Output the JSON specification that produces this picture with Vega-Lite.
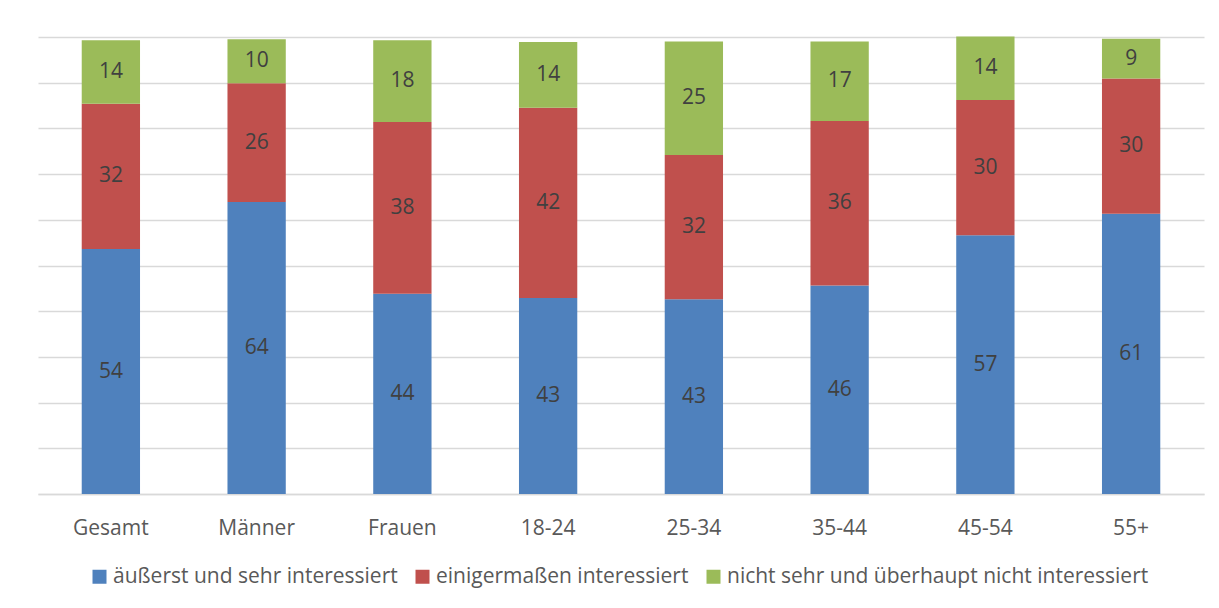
{
  "$schema": "https://vega.github.io/schema/vega-lite/v6.json",
  "autosize": {"type": "none"},
  "width": 1166,
  "height": 457,
  "padding": {"left": 38, "top": 37, "right": 15, "bottom": 114},
  "background": "white",
  "config": {
    "view": {"stroke": null},
    "font": "Open Sans"
  },
  "data": {
    "values": [
      {"gruppe": "Gesamt", "antwort": "äußerst und sehr interessiert", "rang": 1, "wert": 53.6},
      {"gruppe": "Gesamt", "antwort": "einigermaßen interessiert", "rang": 2, "wert": 31.8},
      {"gruppe": "Gesamt", "antwort": "nicht sehr und überhaupt nicht interessiert", "rang": 3, "wert": 13.9},
      {"gruppe": "Männer", "antwort": "äußerst und sehr interessiert", "rang": 1, "wert": 63.9},
      {"gruppe": "Männer", "antwort": "einigermaßen interessiert", "rang": 2, "wert": 26.0},
      {"gruppe": "Männer", "antwort": "nicht sehr und überhaupt nicht interessiert", "rang": 3, "wert": 9.6},
      {"gruppe": "Frauen", "antwort": "äußerst und sehr interessiert", "rang": 1, "wert": 43.8},
      {"gruppe": "Frauen", "antwort": "einigermaßen interessiert", "rang": 2, "wert": 37.6},
      {"gruppe": "Frauen", "antwort": "nicht sehr und überhaupt nicht interessiert", "rang": 3, "wert": 17.9},
      {"gruppe": "18-24", "antwort": "äußerst und sehr interessiert", "rang": 1, "wert": 42.9},
      {"gruppe": "18-24", "antwort": "einigermaßen interessiert", "rang": 2, "wert": 41.6},
      {"gruppe": "18-24", "antwort": "nicht sehr und überhaupt nicht interessiert", "rang": 3, "wert": 14.4},
      {"gruppe": "25-34", "antwort": "äußerst und sehr interessiert", "rang": 1, "wert": 42.6},
      {"gruppe": "25-34", "antwort": "einigermaßen interessiert", "rang": 2, "wert": 31.6},
      {"gruppe": "25-34", "antwort": "nicht sehr und überhaupt nicht interessiert", "rang": 3, "wert": 24.8},
      {"gruppe": "35-44", "antwort": "äußerst und sehr interessiert", "rang": 1, "wert": 45.6},
      {"gruppe": "35-44", "antwort": "einigermaßen interessiert", "rang": 2, "wert": 36.0},
      {"gruppe": "35-44", "antwort": "nicht sehr und überhaupt nicht interessiert", "rang": 3, "wert": 17.4},
      {"gruppe": "45-54", "antwort": "äußerst und sehr interessiert", "rang": 1, "wert": 56.6},
      {"gruppe": "45-54", "antwort": "einigermaßen interessiert", "rang": 2, "wert": 29.6},
      {"gruppe": "45-54", "antwort": "nicht sehr und überhaupt nicht interessiert", "rang": 3, "wert": 13.9},
      {"gruppe": "55+", "antwort": "äußerst und sehr interessiert", "rang": 1, "wert": 61.3},
      {"gruppe": "55+", "antwort": "einigermaßen interessiert", "rang": 2, "wert": 29.6},
      {"gruppe": "55+", "antwort": "nicht sehr und überhaupt nicht interessiert", "rang": 3, "wert": 8.7}
    ]
  },
  "encoding": {
    "x": {
      "field": "gruppe",
      "type": "nominal",
      "sort": null,
      "scale": {"paddingInner": 0.6, "paddingOuter": 0.3},
      "axis": {
        "title": null,
        "labelAngle": 0,
        "labelFontSize": 21,
        "labelColor": "#595959",
        "ticks": false,
        "tickSize": 0,
        "labelPadding": 23,
        "domainColor": "#D9D9D9",
        "domainWidth": 1.5
      }
    },
    "y": {
      "field": "wert",
      "type": "quantitative",
      "stack": "zero",
      "scale": {"domain": [0, 100], "nice": false},
      "axis": {
        "title": null,
        "labels": false,
        "ticks": false,
        "domain": false,
        "values": [0, 10, 20, 30, 40, 50, 60, 70, 80, 90, 100],
        "grid": true,
        "gridColor": "#D9D9D9",
        "gridWidth": 1.3
      }
    },
    "order": {"field": "rang", "type": "quantitative"}
  },
  "layer": [
    {
      "mark": {"type": "bar"},
      "encoding": {
        "color": {
          "field": "antwort",
          "type": "nominal",
          "scale": {
            "domain": ["äußerst und sehr interessiert", "einigermaßen interessiert", "nicht sehr und überhaupt nicht interessiert"],
            "range": ["#4F81BD", "#C0504D", "#9BBB59"]
          },
          "legend": {
            "title": null,
            "orient": "none",
            "legendX": 51,
            "legendY": 529,
            "direction": "horizontal",
            "symbolType": "square",
            "symbolSize": 196,
            "symbolStrokeWidth": 0,
            "labelFontSize": 21,
            "labelColor": "#595959",
            "labelLimit": 0,
            "labelOffset": 3,
            "columnPadding": 14
          }
        }
      }
    },
    {
      "mark": {"type": "text", "fontSize": 21, "color": "#404040"},
      "encoding": {
        "y": {"field": "wert", "type": "quantitative", "stack": "zero", "bandPosition": 0.5},
        "text": {"field": "wert", "type": "quantitative", "format": ".0f"}
      }
    }
  ]
}
